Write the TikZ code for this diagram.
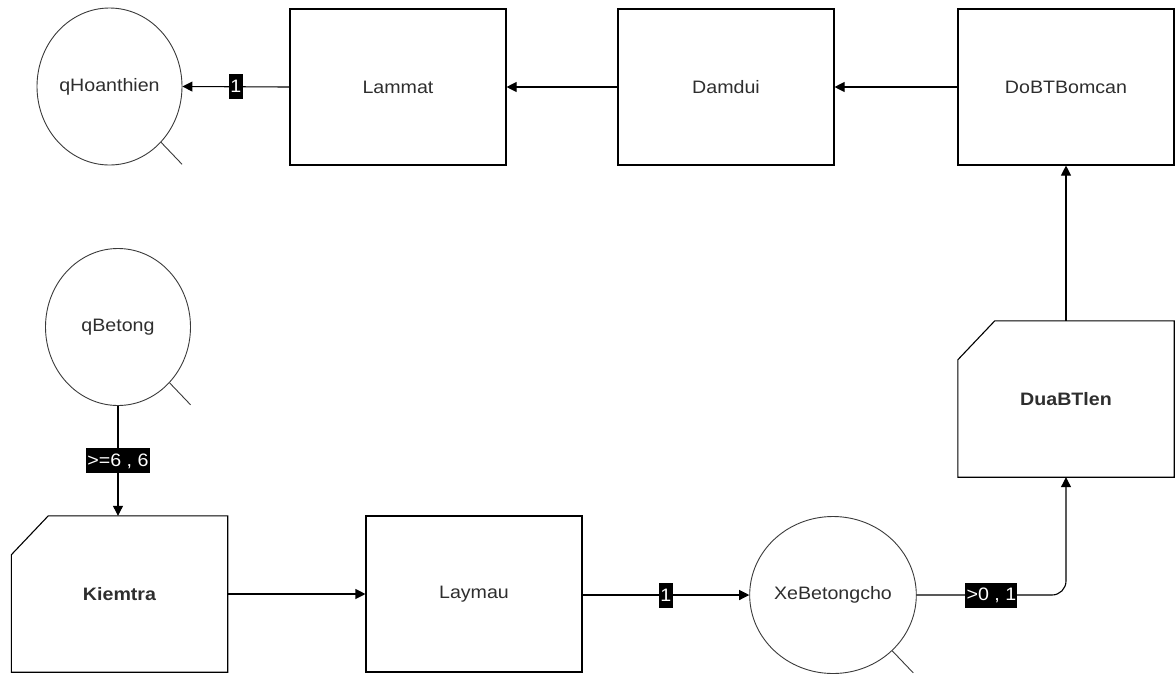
\documentclass[tikz,border=0pt]{standalone}
\usepackage{fontspec}
\setmainfont{Liberation Sans}[FakeStretch=1.09]
\usetikzlibrary{arrows.meta,shapes.geometric,calc}
\definecolor{ink}{HTML}{2E2E2E}
\definecolor{rim}{HTML}{3A3A3A}

\begin{document}
\begin{tikzpicture}[x=1pt,y=-1pt,
  every node/.style={font=\fontsize{18}{21}\selectfont, text=ink},
  proc/.style={draw=black, line width=1.1pt, minimum width=216, minimum height=156, inner sep=0},
  task/.style={minimum width=216, minimum height=156, inner sep=0,
               font=\fontsize{18}{21}\selectfont\bfseries},
  place/.style={draw=rim, ellipse, line width=0.9pt, minimum width=145, minimum height=157, inner sep=0},
  rimline/.style={draw=rim, line width=0.9pt},
  boxline/.style={draw=black, line width=1.1pt},
  flow/.style={line width=1.1pt, -{Triangle[length=10pt,width=10pt]}},
  tag/.style={fill=black, text=white, sharp corners, inner xsep=1.2pt, inner ysep=0pt, minimum height=25},
]
\useasboundingbox (0,0) rectangle (1176,673);

% places
\node[place] (qh) at (109.5,86.5) {qHoanthien};
\node[place] (qb) at (118,327) {qBetong};
\node[place] (xe) at (833,595) {XeBetongcho};
\draw[rimline] (qh.south east) -- ++(21,22);
\draw[rimline] (qb.south east) -- ++(21,22);
\draw[rimline] (xe.south east) -- ++(21,22);

% processes
\node[proc] (lm) at (398,87) {Lammat};
\node[proc] (dd) at (726,87) {Damdui};
\node[proc] (bc) at (1066,87) {DoBTBomcan};
\node[proc] (lay) at (474,594) {Laymau};

% tasks with a cut corner
\node[task] (km) at (119.5,594) {Kiemtra};
\node[task] (du) at (1066,399) {DuaBTlen};
\draw[boxline] (km.south west) -- ($(km.north west)+(0,39)$) -- ($(km.north west)+(37,0)$)
  -- (km.north east) -- (km.south east) -- cycle;
\draw[boxline] (du.south west) -- ($(du.north west)+(0,39)$) -- ($(du.north west)+(37,0)$)
  -- (du.north east) -- (du.south east) -- cycle;

% flows
\draw[flow] (qb.south) -- node[tag] {>=6 , 6} (km.north -| qb.south);
\draw[flow] (km.east |- lay.west) -- (lay.west);
\draw[flow] (lay.east |- xe.west) -- node[tag] {1} (xe.west);
\draw[flow, rounded corners=14] (xe.east) -- node[tag] {>0 , 1} (xe.east -| du.south) -- (du.south);
\draw[flow] (du.north) -- (bc.south);
\draw[flow] (bc.west) -- (dd.east);
\draw[flow] (dd.west) -- (lm.east);
\draw[flow] (lm.west) -- node[tag] {1} (qh.east);
\end{tikzpicture}
\end{document}
